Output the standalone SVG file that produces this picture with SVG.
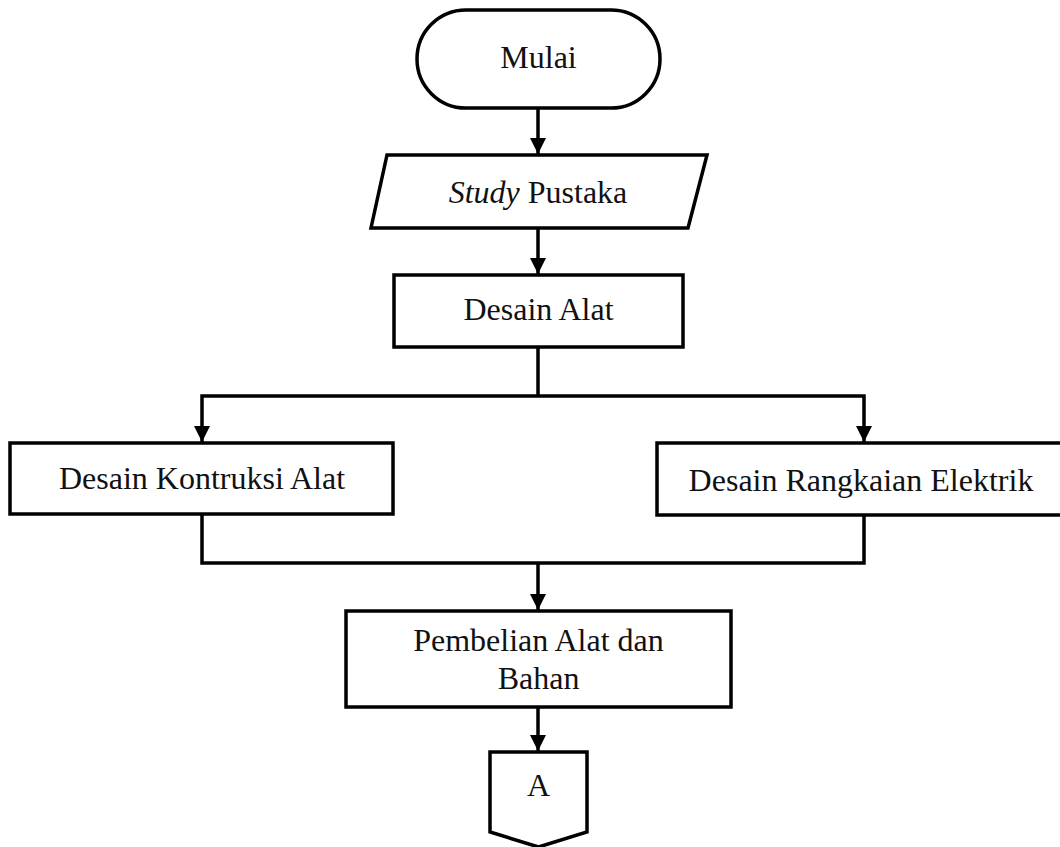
<svg xmlns="http://www.w3.org/2000/svg" width="1060" height="847" viewBox="0 0 1060 847">
<style>
.s{fill:#fff;stroke:#000;stroke-width:3.5}
.c{fill:none;stroke:#000;stroke-width:3.5}
text{font-family:"Liberation Serif","Times New Roman",serif;font-size:32px;fill:#111;text-anchor:middle}
</style>
<defs>
<marker id="ah" markerUnits="userSpaceOnUse" markerWidth="16" markerHeight="16" viewBox="0 0 16 16" refX="16" refY="8" orient="auto">
<path d="M0,0 L16,8 L0,16 Z" fill="#000"/>
</marker>
</defs>
<rect width="1060" height="847" fill="#fff"/>
<g id="connectors">
<path class="c" d="M538,108 V154" marker-end="url(#ah)"/>
<path class="c" d="M538,228 V274" marker-end="url(#ah)"/>
<path class="c" d="M538,347 V396 M538,396 H202 V442" marker-end="url(#ah)"/>
<path class="c" d="M538,396 H864 V442" marker-end="url(#ah)"/>
<path class="c" d="M202,514 V563 H864 V515"/>
<path class="c" d="M538,563 V610" marker-end="url(#ah)"/>
<path class="c" d="M538,707 V751" marker-end="url(#ah)"/>
</g>
<g id="mulai">
<rect class="s" x="417" y="10" width="243" height="98" rx="49" ry="49"/>
<text x="538.5" y="68">Mulai</text>
</g>
<g id="study">
<path class="s" d="M387,155 H707 L688,228 H371 Z"/>
<text x="538" y="203"><tspan font-style="italic">Study</tspan> Pustaka</text>
</g>
<g id="desain-alat">
<rect class="s" x="394" y="275" width="289" height="72"/>
<text x="538.5" y="320">Desain Alat</text>
</g>
<g id="kontruksi">
<rect class="s" x="10" y="443" width="383" height="71"/>
<text x="202" y="489">Desain Kontruksi Alat</text>
</g>
<g id="elektrik">
<rect class="s" x="657" y="443" width="414" height="72"/>
<text x="861" y="491">Desain Rangkaian Elektrik</text>
</g>
<g id="pembelian">
<rect class="s" x="346" y="611" width="385" height="96"/>
<text x="538.5" y="651">Pembelian Alat dan</text>
<text x="538.5" y="689">Bahan</text>
</g>
<g id="a">
<path class="s" d="M490,752 H587 V832 L538.5,847 L490,832 Z"/>
<text x="538.5" y="796">A</text>
</g>
</svg>
